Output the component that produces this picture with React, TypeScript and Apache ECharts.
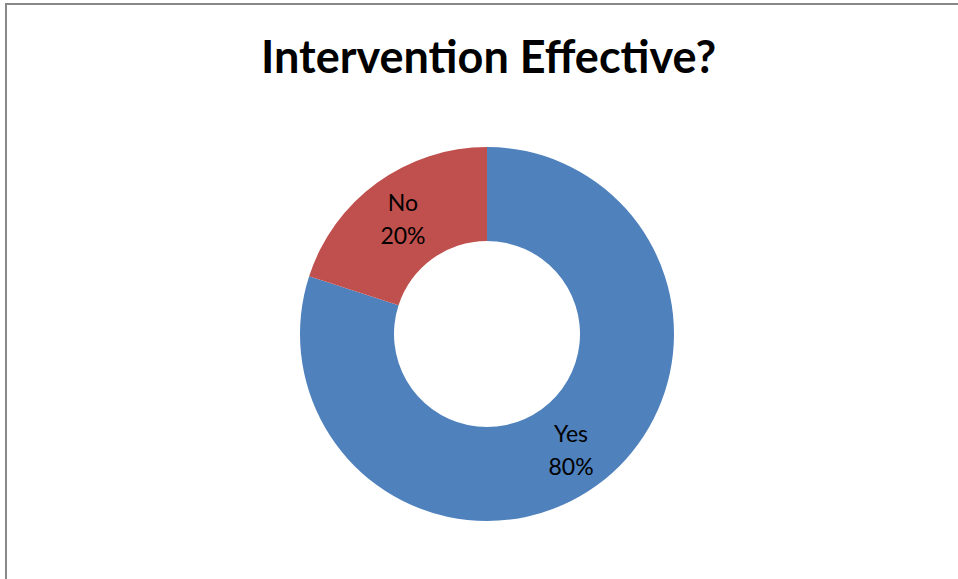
import React, { useEffect, useRef } from "react";
import * as echarts from "echarts";

const categories = ["Yes", "No"];
const values = [80, 20];
const colors = ["#4F81BD", "#C0504D"];
const titleText = "Intervention Effective?";

export default function App() {
  const ref = useRef<HTMLDivElement>(null);
  useEffect(() => {
    document.body.style.margin = "0";
    const chart = echarts.init(ref.current!, null, { renderer: "svg" });
    chart.setOption({
      animation: false,
      backgroundColor: "#ffffff",
      title: {
        text: titleText,
        left: 256,
        top: 28,
        textStyle: {
          fontFamily: "Lato",
          fontWeight: "bold",
          fontSize: 45,
          color: "#000",
        },
      },
      graphic: [
        {
          type: "line",
          shape: { x1: 5, y1: 4, x2: 960, y2: 4 },
          style: { stroke: "#888888", lineWidth: 2 },
        },
        {
          type: "line",
          shape: { x1: 6, y1: 4, x2: 6, y2: 590 },
          style: { stroke: "#888888", lineWidth: 2 },
        },
      ],
      series: [
        {
          type: "pie",
          center: [487, 334],
          radius: [93, 187],
          startAngle: 90,
          clockwise: true,
          itemStyle: { borderWidth: 0 },
          label: {
            show: true,
            position: "inside",
            formatter: "{b}\n{d}%",
            fontFamily: "Lato",
            fontSize: 23,
            lineHeight: 33,
            color: "#000",
          },
          labelLine: { show: false },
          emphasis: { disabled: true },
          data: categories.map((c, i) => ({
            name: c,
            value: values[i],
            itemStyle: { color: colors[i] },
          })),
        },
      ],
    });
    return () => chart.dispose();
  }, []);
  return <div ref={ref} style={{ width: 958, height: 579 }} />;
}
